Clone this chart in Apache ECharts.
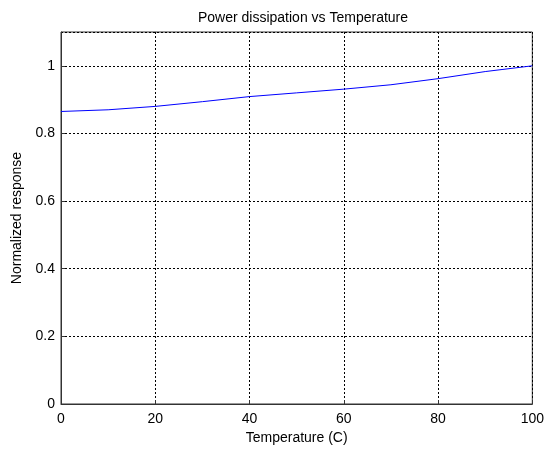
<!DOCTYPE html>
<html>
<head>
<meta charset="utf-8">
<script src="https://cdn.jsdelivr.net/npm/echarts@6/dist/echarts.min.js"></script>
<style>html,body{margin:0;padding:0;background:#fff}#c{width:547px;height:450px}</style>
</head>
<body>
<div id="c"></div>
<script>
const temperature = [0, 10, 20, 30, 40, 50, 60, 70, 80, 90, 100];
const response = [0.865, 0.870, 0.880, 0.894, 0.909, 0.920, 0.931, 0.944, 0.962, 0.983, 1.0];
const xTicks = [0, 20, 40, 60, 80, 100];
const yTicks = [0, 0.2, 0.4, 0.6, 0.8, 1];

const chart = echarts.init(document.getElementById('c'), null, {renderer: 'canvas'});
const font = 'Liberation Sans, Arial, sans-serif';
const splitStyle = {show: true, lineStyle: {color: '#000', type: [2, 2], width: 1}};
chart.setOption({
  animation: false,
  backgroundColor: '#fff',
  title: {
    text: 'Power dissipation vs Temperature',
    left: 298, top: 6, textAlign: 'center',
    textStyle: {fontFamily: font, fontSize: 14, fontWeight: 'normal', color: '#000'}
  },
  grid: {left: 61, right: 12, top: 32, bottom: 45, show: true, borderColor: '#333', borderWidth: 1, backgroundColor: 'transparent'},
  xAxis: {
    type: 'value', min: xTicks[0], max: xTicks[xTicks.length - 1], interval: 20,
    name: 'Temperature (C)', nameLocation: 'middle', nameGap: 27,
    nameTextStyle: {fontFamily: font, fontSize: 14, color: '#000'},
    axisLine: {show: true, lineStyle: {color: '#333'}},
    axisTick: {show: true, inside: true, length: 4, lineStyle: {color: '#333'}},
    axisLabel: {fontFamily: font, fontSize: 14, color: '#000', margin: 8},
    splitLine: splitStyle
  },
  yAxis: {
    type: 'value', min: 0, max: 1.1, interval: 0.2,
    name: 'Normalized response', nameLocation: 'middle', nameGap: 29,
    nameTextStyle: {fontFamily: font, fontSize: 14, color: '#000'},
    axisLine: {show: true, lineStyle: {color: '#333'}},
    axisTick: {show: true, inside: true, length: 4, lineStyle: {color: '#333'}},
    axisLabel: {fontFamily: font, fontSize: 14, color: '#000', margin: 6, showMaxLabel: false,
      formatter: v => yTicks.some(t => Math.abs(t - v) < 1e-9) ? String(+v.toFixed(1)) : ''},
    splitLine: splitStyle
  },
  series: [{
    type: 'line',
    data: temperature.map((t, i) => [t, response[i]]),
    showSymbol: false, smooth: false,
    lineStyle: {color: '#0000ff', width: 1},
    z: 5
  }]
});
</script>
</body>
</html>
